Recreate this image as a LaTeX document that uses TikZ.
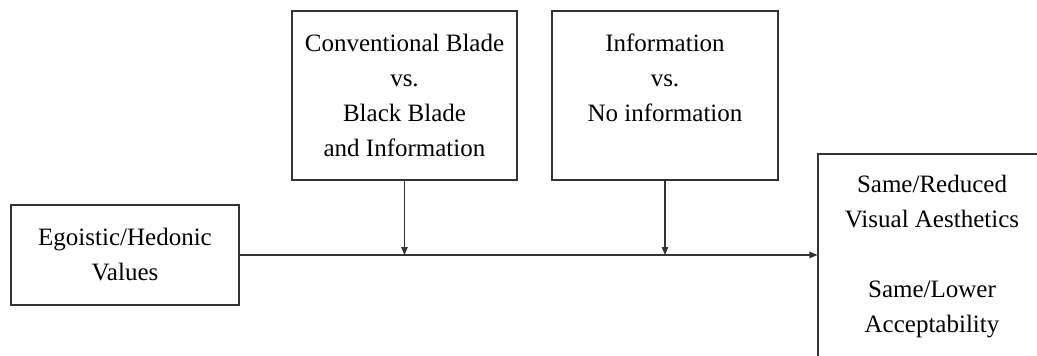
\documentclass[tikz,border=0pt]{standalone}
\usepackage{fontspec}
\setmainfont{Liberation Serif}
\usetikzlibrary{arrows.meta}
\tikzset{
	box/.style={draw=black!80, line width=1.1pt, rectangle, align=center, inner sep=0pt,
		font=\fontsize{25}{35}\selectfont},
	link/.style={draw=black!80, line width=1.1pt, -{Triangle[length=8pt,width=6.5pt]}}
}
\begin{document}
\begin{tikzpicture}[x=1pt,y=-1pt]
\useasboundingbox (0,0) rectangle (1037,356);
\clip (0,0) rectangle (1037,356);
\node[box, minimum width=228pt, minimum height=100pt] (values) at (125,255)
	{Egoistic/Hedonic\\Values};
\node[box, minimum width=225pt, minimum height=169pt] (blade) at (404.5,95.5)
	{Conventional Blade\\vs.\\Black Blade\\and Information};
\node[box, minimum width=226pt, minimum height=169pt] (info) at (665,95.5)
	{Information\\vs.\\No information\\~};
\node[box, minimum width=228pt, minimum height=206pt] (outcome) at (932,257)
	{Same/Reduced\\Visual Aesthetics\\[35pt]Same/Lower\\Acceptability};
\draw[link] (values.east) -- (values.east -| outcome.west);
\draw[link] (blade.south) -- (blade.south |- values.east);
\draw[link] (info.south) -- (info.south |- values.east);
\end{tikzpicture}
\end{document}
